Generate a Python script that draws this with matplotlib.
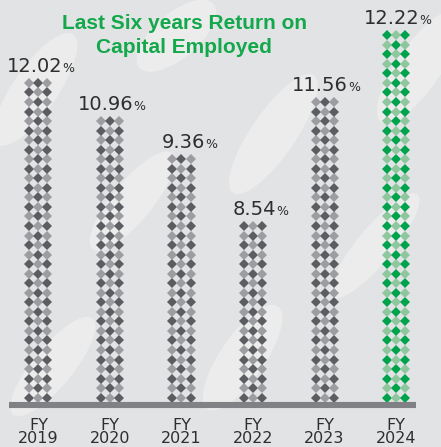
import matplotlib
matplotlib.use('Agg')
import matplotlib.pyplot as plt
from matplotlib.patches import Ellipse

################################################################################
# Return on capital employed, last six years
years = ['2019', '2020', '2021', '2022', '2023', '2024']
roce = [12.02, 10.96, 9.36, 8.54, 11.56, 12.22]
# height of each column, counted in diamond rows off the picture
rows = [34, 30, 26, 19, 32, 39]

bg = '#e2e3e4'
gray_dark, gray_light = '#5c5d60', '#9c9da0'
green_dark, green_light = '#00a24c', '#8ec69e'
text_col = '#2e2e2e'

fig = plt.figure(figsize=(4.41, 4.47), dpi=100, facecolor=bg)
ax = fig.add_axes([0, 0, 1, 1], facecolor=bg)
ax.set_xlim(-0.538, 5.629)
ax.set_ylim(-5.17, 41.69)
ax.axis('off')

# faint white brush strokes in the background
for (ex, ey, w, h, a) in [(0.08, 0.80, 0.10, 0.30, -35), (0.30, 0.55, 0.09, 0.28, -40),
                          (0.62, 0.70, 0.10, 0.32, -35), (0.85, 0.45, 0.08, 0.30, -40),
                          (0.12, 0.18, 0.09, 0.28, -40), (0.55, 0.20, 0.10, 0.28, -35),
                          (0.95, 0.85, 0.10, 0.30, -35), (0.40, 0.92, 0.10, 0.22, -50)]:
    ax.add_patch(Ellipse((ex, ey), w, h, angle=a, transform=ax.transAxes,
                         facecolor='white', alpha=0.35, edgecolor='none', zorder=0))

# diamond columns: three per bar, checkerboard shading
col_off = 0.126
for i, n in enumerate(rows):
    last = i == len(rows) - 1
    dark = green_dark if last else gray_dark
    light = green_light if last else gray_light
    for c in (-1, 0, 1):
        for r in range(n):
            colr = dark if (r + abs(c)) % 2 == 1 else light
            ax.plot(i + c * col_off, r, marker='D', ms=5.0, color=colr,
                    markeredgewidth=0, linestyle='none', zorder=2)

    # value label, with a small % sign
    ax.text(i + 0.33, n - 1 + 1.15, f'{roce[i]:.2f}', ha='right', va='baseline',
            fontsize=14, color=text_col)
    ax.text(i + 0.33, n - 1 + 1.15, '%', ha='left', va='baseline',
            fontsize=9, color=text_col)

    # year label (baseline is that of the last line)
    ax.text(i, -4.8, 'FY\n' + years[i], ha='center', va='baseline', fontsize=11.5,
            color=text_col, linespacing=0.88)

# base line
ax.axhline(-0.77, xmin=0.0204, xmax=0.943, color='#808184', linewidth=4.4,
           solid_capstyle='butt', zorder=3)

fig.text(0.418, 0.935, 'Last Six years Return on', ha='center', va='baseline',
         fontsize=15, fontweight='bold', color='#13a84b', family='Liberation Sans')
fig.text(0.418, 0.881, 'Capital Employed', ha='center', va='baseline',
         fontsize=15, fontweight='bold', color='#13a84b', family='Liberation Sans')

plt.savefig('out.png', dpi=100, facecolor=bg)
print('Done')
